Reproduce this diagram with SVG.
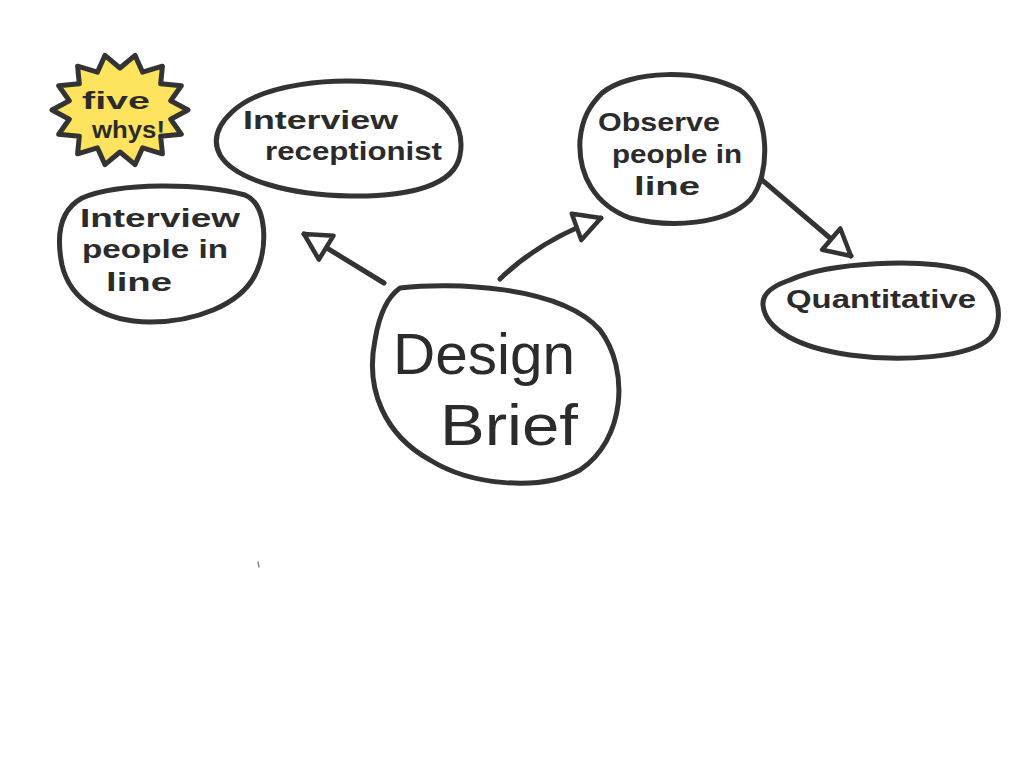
<svg xmlns="http://www.w3.org/2000/svg" width="1024" height="768" viewBox="0 0 1024 768">
  <style>
    .blob { fill: #ffffff; stroke: #333333; stroke-width: 5; stroke-linejoin: round; stroke-linecap: round; }
    .burst { fill: #fde35e; stroke: #333333; stroke-width: 5; stroke-linejoin: round; }
    .lbl { font-family: "Liberation Sans", Arial, sans-serif; font-weight: 700; fill: #2b2b2b; font-size: 26px; }
    .big { font-family: "Liberation Sans", Arial, sans-serif; font-weight: 400; fill: #2b2b2b; font-size: 58px; }
    .wire { fill: none; stroke: #333333; stroke-width: 5; stroke-linecap: round; }
  </style>
  <defs>
    <marker id="head" markerUnits="userSpaceOnUse" markerWidth="36" markerHeight="36" viewBox="0 0 36 36" refX="30" refY="18" orient="auto">
      <path d="M4,4 L30,18 L4,32 Z" fill="#ffffff" stroke="#333333" stroke-width="4.5" stroke-linejoin="round"/>
    </marker>
  </defs>
  <rect width="1024" height="768" fill="#ffffff"/>

  <!-- connectors -->
  <g id="connectors">
    <path class="wire" d="M384,283 L304,234" marker-end="url(#head)"/>
    <path class="wire" d="M500,279 Q540,240 601,218" marker-end="url(#head)"/>
    <path class="wire" d="M762,180 L851,256" marker-end="url(#head)"/>
  </g>

  <!-- yellow burst note -->
  <g id="five-whys">
    <polygon class="burst" points="188,110 170.7,119.3 181.3,134.3 160.7,136.2 162.4,153.8 142.6,147.8 135.1,164.6 120,152 104.9,164.6 97.4,147.8 77.6,153.8 79.3,136.2 58.7,134.3 69.3,119.3 52,110 69.3,100.7 58.7,85.7 79.3,83.8 77.6,66.2 97.4,72.2 104.9,55.4 120,68 135.1,55.4 142.6,72.2 162.4,66.2 160.7,83.8 181.3,85.7 170.7,100.7"/>
    <text class="lbl" x="82" y="109" style="font-size:23px" textLength="68" lengthAdjust="spacingAndGlyphs">five</text>
    <text class="lbl" x="92" y="138" style="font-size:23px" textLength="73" lengthAdjust="spacingAndGlyphs">whys!</text>
  </g>

  <g id="interview-receptionist">
    <path class="blob" d="M232,112 C260,85 330,75 400,85 C450,95 465,130 460,155 C455,185 410,197 350,196 C290,195 235,180 220,155 C212,140 218,125 232,112 Z"/>
    <text class="lbl" x="243" y="129" textLength="155" lengthAdjust="spacingAndGlyphs">Interview</text>
    <text class="lbl" x="265" y="160" textLength="177" lengthAdjust="spacingAndGlyphs">receptionist</text>
  </g>

  <g id="interview-people">
    <path class="blob" d="M82,198 C120,182 200,183 245,195 C268,205 268,250 255,275 C240,305 195,322 150,322 C105,322 70,300 62,265 C56,235 60,210 82,198 Z"/>
    <text class="lbl" x="80" y="227" textLength="160" lengthAdjust="spacingAndGlyphs">Interview</text>
    <text class="lbl" x="82" y="258" textLength="146" lengthAdjust="spacingAndGlyphs">people in</text>
    <text class="lbl" x="106" y="291" textLength="66" lengthAdjust="spacingAndGlyphs">line</text>
  </g>

  <g id="observe">
    <path class="blob" d="M602,93 C630,70 700,68 740,90 C770,110 772,175 750,200 C725,225 670,228 630,218 C595,205 578,175 580,140 C582,118 590,105 602,93 Z"/>
    <text class="lbl" x="598" y="131" textLength="122" lengthAdjust="spacingAndGlyphs">Observe</text>
    <text class="lbl" x="612" y="163" textLength="130" lengthAdjust="spacingAndGlyphs">people in</text>
    <text class="lbl" x="634" y="195" textLength="66" lengthAdjust="spacingAndGlyphs">line</text>
  </g>

  <g id="quantitative">
    <path class="blob" d="M790,280 C830,262 920,258 965,270 C1000,282 1006,320 990,338 C970,358 900,362 850,355 C800,348 765,330 763,305 C762,292 775,285 790,280 Z"/>
    <text class="lbl" x="786" y="308" textLength="190" lengthAdjust="spacingAndGlyphs">Quantitative</text>
  </g>

  <g id="design-brief">
    <path class="blob" d="M400,288 C450,282 560,285 600,330 C630,370 625,440 580,470 C540,492 470,485 430,460 C385,435 365,390 375,340 C380,310 390,295 400,288 Z"/>
    <text class="big" x="393" y="374" textLength="182" lengthAdjust="spacingAndGlyphs">Design</text>
    <text class="big" x="440" y="445" textLength="138" lengthAdjust="spacingAndGlyphs">Brief</text>
  </g>

  <!-- stray pen mark -->
  <path d="M258,562 L259,567" stroke="#888888" stroke-width="1.5" stroke-linecap="round"/>
</svg>
